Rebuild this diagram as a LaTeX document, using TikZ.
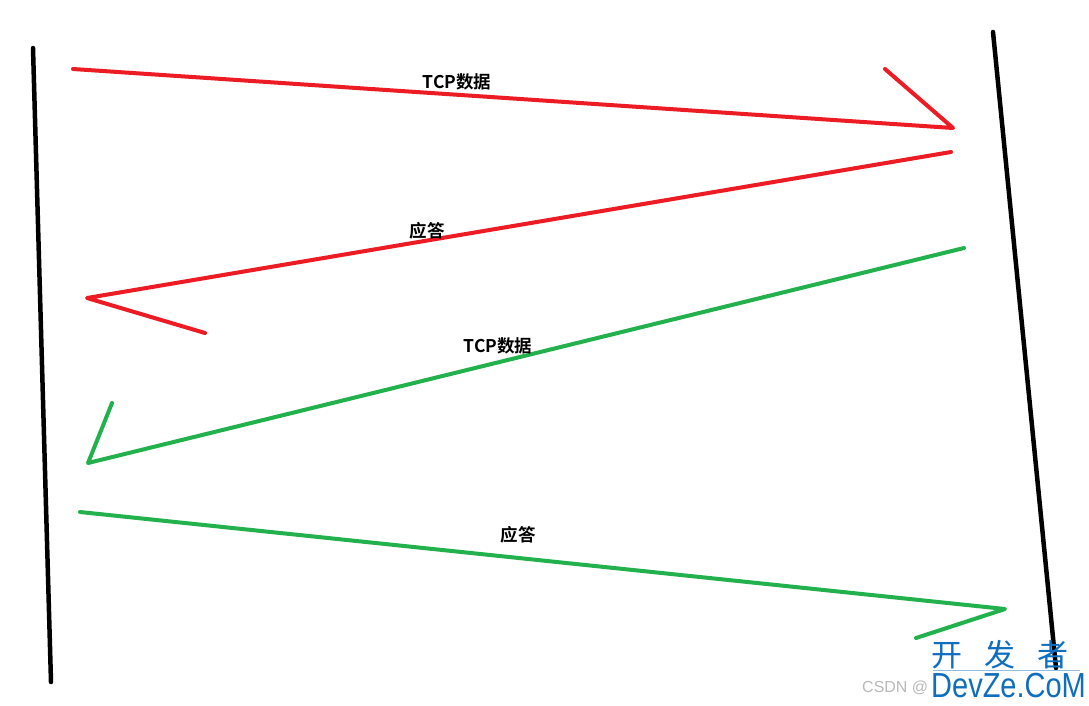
\documentclass[tikz,border=0pt]{standalone}
\usepackage{fontspec}
\newfontfamily\cjk{Noto Sans CJK SC}
\newfontfamily\cjkb{Noto Sans CJK SC Bold}
\setsansfont{Liberation Sans}
\definecolor{mred}{RGB}{237,28,36}
\definecolor{mgreen}{RGB}{34,177,76}
\definecolor{wblue}{RGB}{16,110,190}
\definecolor{wgray}{RGB}{185,185,185}
\tikzset{
  lifeline/.style={draw=black, line width=4.5pt, line cap=round},
  redmsg/.style={draw=mred, line width=4pt, line cap=round, line join=round},
  greenmsg/.style={draw=mgreen, line width=4pt, line cap=round, line join=round},
  lbl/.style={font=\cjkb\fontsize{17.5}{17.5}\selectfont, inner sep=0pt, text=black},
}
\begin{document}
\begin{tikzpicture}[x=1pt,y=-1pt]
\useasboundingbox (0,0) rectangle (1089,705);
\fill[white] (0,0) rectangle (1089,705);
% lifelines
\coordinate (L1) at (33,48);
\coordinate (L2) at (51,682);
\coordinate (R1) at (993,32);
\coordinate (R2) at (1056,668);
\draw[lifeline] (L1) -- (L2);
\draw[lifeline] (R1) -- (R2);
% message 1 (red)
\coordinate (a1) at (73,69);
\coordinate (a2) at (953,128);
\coordinate (a3) at (885,69);
\draw[redmsg] (a1) -- (a2) -- (a3);
\node[lbl] (t1) at (457,82) {TCP数据};
% message 2 (red)
\coordinate (b1) at (951,152);
\coordinate (b2) at (87,298);
\coordinate (b3) at (205,333);
\draw[redmsg] (b1) -- (b2) -- (b3);
\node[lbl] (t2) at (427,231) {应答};
% message 3 (green)
\coordinate (c1) at (964,248);
\coordinate (c2) at (88,463);
\coordinate (c3) at (112,403);
\draw[greenmsg] (c1) -- (c2) -- (c3);
\node[lbl] (t3) at (498,346) {TCP数据};
% message 4 (green)
\coordinate (d1) at (80,512);
\coordinate (d2) at (1005,609);
\coordinate (d3) at (916,638);
\draw[greenmsg] (d1) -- (d2) -- (d3);
\node[lbl] (t4) at (518,535) {应答};
% watermark
\node[font=\sffamily\fontsize{16}{16}\selectfont, text=wgray, anchor=west, inner sep=0pt] (w0) at (862,688) {CSDN @};
\node[font=\cjk\fontsize{31}{31}\selectfont, text=wblue, anchor=west, inner sep=0pt] (w1) at (931,655) {开\hspace{22pt}发\hspace{22pt}者};
\coordinate (u1) at (933,670);
\coordinate (u2) at (1080,670);
\draw[draw=wblue!45, line width=1pt] (u1) -- (u2);
\node[font=\sffamily\fontsize{29}{29}\selectfont, text=wblue, anchor=west, inner sep=0pt] (w2) at (931,686) {\scalebox{1}[1.2]{DevZe.CoM}};
\end{tikzpicture}
\end{document}
